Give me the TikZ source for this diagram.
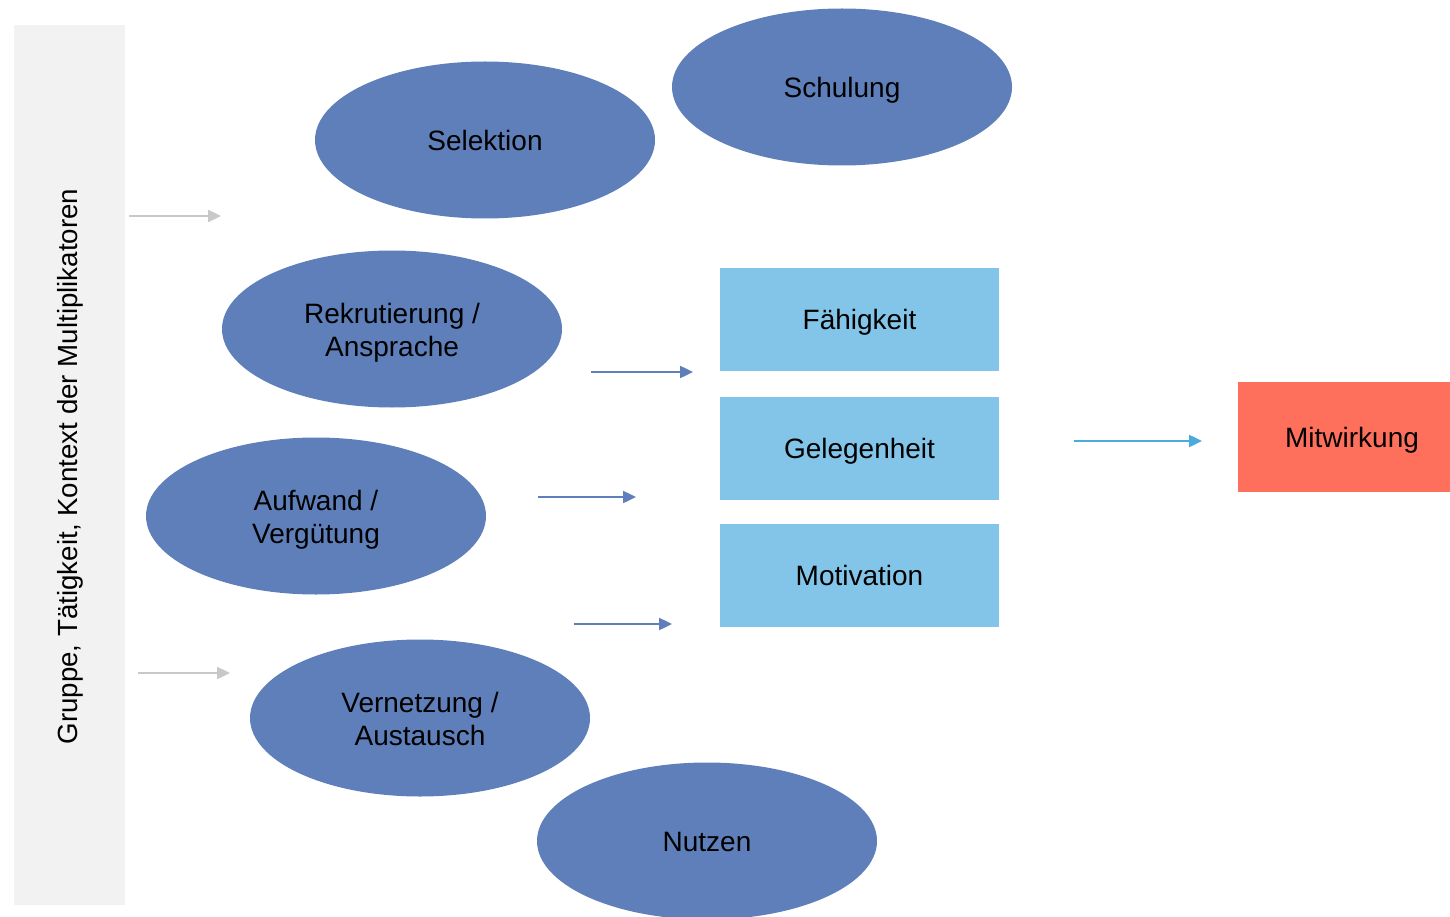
\documentclass[tikz,border=0pt]{standalone}
\usepackage{fontspec}
\setmainfont{Liberation Sans}
\usetikzlibrary{arrows.meta,shapes.geometric}
\definecolor{ellblue}{RGB}{94,127,185}
\definecolor{boxblue}{RGB}{131,197,232}
\definecolor{redbox}{RGB}{255,112,92}
\definecolor{sidegray}{RGB}{242,242,242}
\definecolor{arrgray}{RGB}{200,200,200}
\definecolor{arrlight}{RGB}{75,170,222}
\begin{document}
\begin{tikzpicture}[x=1pt,y=-1pt,
  every node/.style={font=\fontsize{28}{33}\selectfont, text=black},
  txt/.style={align=center, yshift=-3.7pt, font=\fontsize{28}{33}\selectfont,
    execute at begin node=\strut, execute at end node=\strut},
  ell/.style={ellipse, fill=ellblue, minimum width=340pt, minimum height=157pt, inner sep=0pt, label={[txt]center:#1}},
  elltwo/.style={ellipse, fill=ellblue, minimum width=340pt, minimum height=157pt, inner sep=0pt, label={[txt, yshift=-1.8pt]center:#1}},
  bx/.style={rectangle, fill=boxblue, minimum width=279pt, minimum height=103pt, inner sep=0pt, label={[txt]center:#1}},
  arr/.style={line width=2.4pt, -{Triangle[length=13pt,width=12pt]}},
]
\useasboundingbox (0,0) rectangle (1450,917);
\node[rectangle, fill=sidegray, minimum width=111pt, minimum height=880pt, inner sep=0pt] (side) at (69.5,465) {};
\node[rotate=90, font=\fontsize{27.7}{33}\selectfont] (sidetext) at (70,466.5) {Gruppe, Tätigkeit, Kontext der Multiplikatoren};

\node[ell={Selektion}] (sel) at (485,140) {};
\node[ell={Schulung}] (sch) at (842,87) {};
\node[elltwo={Rekrutierung /\\Ansprache}] (rek) at (392,329) {};
\node[elltwo={Aufwand /\\Vergütung}] (auf) at (316,516) {};
\node[elltwo={Vernetzung /\\Austausch}] (ver) at (420,718) {};
\node[ell={Nutzen}] (nut) at (707,841) {};

\node[bx={Fähigkeit}] (fae) at (859.5,319.5) {};
\node[bx={Gelegenheit}] (gel) at (859.5,448.5) {};
\node[bx={Motivation}] (mot) at (859.5,575.5) {};

\node[rectangle, fill=redbox, minimum width=212pt, minimum height=110pt, inner sep=0pt,
  label={[txt, xshift=8pt]center:Mitwirkung}] (mit) at (1344,437) {};

\coordinate (g1a) at (129,216); \coordinate (g1b) at (221,216);
\coordinate (g2a) at (138,673); \coordinate (g2b) at (230,673);
\coordinate (b1a) at (591,372); \coordinate (b1b) at (693,372);
\coordinate (b2a) at (538,497); \coordinate (b2b) at (636,497);
\coordinate (b3a) at (574,624); \coordinate (b3b) at (672,624);
\coordinate (l1a) at (1074,441); \coordinate (l1b) at (1202,441);

\draw[arr, arrgray] (g1a) -- (g1b);
\draw[arr, arrgray] (g2a) -- (g2b);
\draw[arr, ellblue] (b1a) -- (b1b);
\draw[arr, ellblue] (b2a) -- (b2b);
\draw[arr, ellblue] (b3a) -- (b3b);
\draw[arr, arrlight] (l1a) -- (l1b);
\end{tikzpicture}
\end{document}
